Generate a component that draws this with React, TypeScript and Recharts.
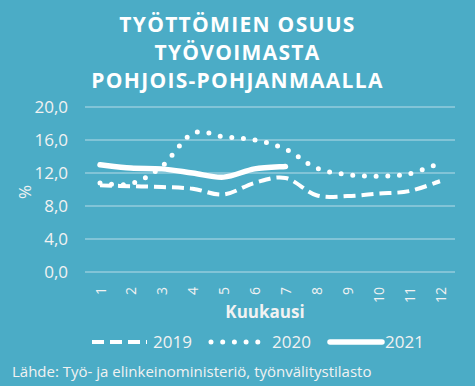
import React from 'react';
import { LineChart, Line, XAxis, YAxis, CartesianGrid } from 'recharts';

const months = ['1', '2', '3', '4', '5', '6', '7', '8', '9', '10', '11', '12'];
const s2019 = [10.5, 10.4, 10.3, 10.1, 9.4, 10.8, 11.4, 9.3, 9.2, 9.5, 9.8, 11.0];
const s2020 = [10.8, 10.7, 12.8, 16.8, 16.4, 16.0, 14.9, 12.6, 11.8, 11.6, 11.9, 13.2];
const s2021 = [13.0, 12.6, 12.5, 12.0, 11.5, 12.5, 12.8, null, null, null, null, null];
const yTicks = [0, 4, 8, 12, 16, 20];
const titleLines = ['TYÖTTÖMIEN OSUUS', 'TYÖVOIMASTA', 'POHJOIS-POHJANMAALLA'];
const seriesNames = ['2019', '2020', '2021'];

const data = months.map((m, i) => ({ month: m, y2019: s2019[i], y2020: s2020[i], y2021: s2021[i] }));

const BG = '#4BACC6';
const FONT = '"Open Sans", sans-serif';
const TXT = '#F2F2F2';

// Excel-like smoothed line (Catmull-Rom style Bezier through the points)
const smoothCurve: any = (context: any) => {
  let pts: number[][] = [];
  return {
    areaStart() {},
    areaEnd() {},
    lineStart() { pts = []; },
    point(x: number, y: number) { pts.push([+x, +y]); },
    lineEnd() {
      const n = pts.length;
      if (!n) return;
      context.moveTo(pts[0][0], pts[0][1]);
      if (n === 1) { context.lineTo(pts[0][0], pts[0][1]); return; }
      for (let i = 0; i < n - 1; i++) {
        const p0 = pts[i - 1] || pts[i];
        const p1 = pts[i];
        const p2 = pts[i + 1];
        const p3 = pts[i + 2] || pts[i + 1];
        const c1x = p1[0] + (p2[0] - p0[0]) / 6;
        const c1y = p1[1] + (p2[1] - p0[1]) / 6;
        const c2x = p2[0] - (p3[0] - p1[0]) / 6;
        const c2y = p2[1] - (p3[1] - p1[1]) / 6;
        context.bezierCurveTo(c1x, c1y, c2x, c2y, p2[0], p2[1]);
      }
    },
  };
};

const XTick = (props: any) => {
  const { x, y, payload } = props;
  return (
    <text x={x} y={y} transform={`rotate(-90 ${x} ${y})`} textAnchor="end" dominantBaseline="central"
      fill={TXT} fontSize={14} fontFamily={FONT}>{payload.value}</text>
  );
};

const styles = [
  { key: 'y2019', dash: '12 6', width: 4, cap: 'butt' as const, sx: 92, sw: 55, tx: 153 },
  { key: 'y2020', dash: '0 11.7', width: 5, cap: 'round' as const, sx: 211, sw: 52, tx: 272 },
  { key: 'y2021', dash: undefined, width: 5.5, cap: 'round' as const, sx: 330, sw: 52, tx: 385 },
];

export default function App() {
  return (
    <div style={{ position: 'absolute', left: 0, top: 0, width: 475, height: 386, background: BG, overflow: 'hidden', fontFamily: FONT }}>
      <div style={{ position: 'absolute', top: 10, left: 0, width: 475, textAlign: 'center', color: '#FFFFFF', fontWeight: 700, fontSize: 21, lineHeight: '28px', letterSpacing: 1.3 }}>
        {titleLines.map((t) => <div key={t}>{t}</div>)}
      </div>
      <LineChart width={475} height={386} data={data} margin={{ top: 107, right: 20, bottom: 84, left: 0 }}>
        <CartesianGrid vertical={false} stroke="#93CDDD" strokeWidth={1.5} />
        <XAxis dataKey="month" axisLine={false} tickLine={false} tickSize={0} tickMargin={15} height={30}
          padding={{ left: 15, right: 15 }} tick={<XTick />} interval={0} />
        <YAxis domain={[0, 20]} ticks={yTicks} axisLine={false} tickLine={false} tickSize={0} tickMargin={17} width={85}
          tickFormatter={(v: number) => v.toFixed(1).replace('.', ',')}
          tick={{ fill: TXT, fontSize: 17, fontFamily: FONT }} />
        {styles.map((s) => (
          <Line key={s.key} dataKey={s.key} type={smoothCurve} stroke="#FFFFFF" strokeWidth={s.width}
            strokeDasharray={s.dash} strokeLinecap={s.cap} dot={false} activeDot={false}
            isAnimationActive={false} connectNulls={false} />
        ))}
      </LineChart>
      <div style={{ position: 'absolute', left: 25, top: 192, transform: 'translate(-50%, -50%) rotate(-90deg)', color: TXT, fontSize: 17, lineHeight: '20px' }}>%</div>
      <div style={{ position: 'absolute', left: 265, top: 312, transform: 'translate(-50%, -50%)', color: TXT, fontSize: 17, fontWeight: 700, lineHeight: '20px' }}>Kuukausi</div>
      {styles.map((s, i) => (
        <React.Fragment key={s.key}>
          <svg width={s.sw + 6} height={10} style={{ position: 'absolute', left: s.sx - 3, top: 337 }}>
            <line x1={3} y1={5} x2={3 + s.sw} y2={5} stroke="#FFFFFF" strokeWidth={s.width}
              strokeDasharray={s.dash} strokeLinecap={s.cap} />
          </svg>
          <div style={{ position: 'absolute', left: s.tx, top: 331, color: TXT, fontSize: 17, lineHeight: '22px' }}>{seriesNames[i]}</div>
        </React.Fragment>
      ))}
      <div style={{ position: 'absolute', left: 12, top: 361, color: TXT, fontSize: 15, lineHeight: '20px', whiteSpace: 'nowrap' }}>
        Lähde: Työ- ja elinkeinoministeriö, työnvälitystilasto
      </div>
    </div>
  );
}
